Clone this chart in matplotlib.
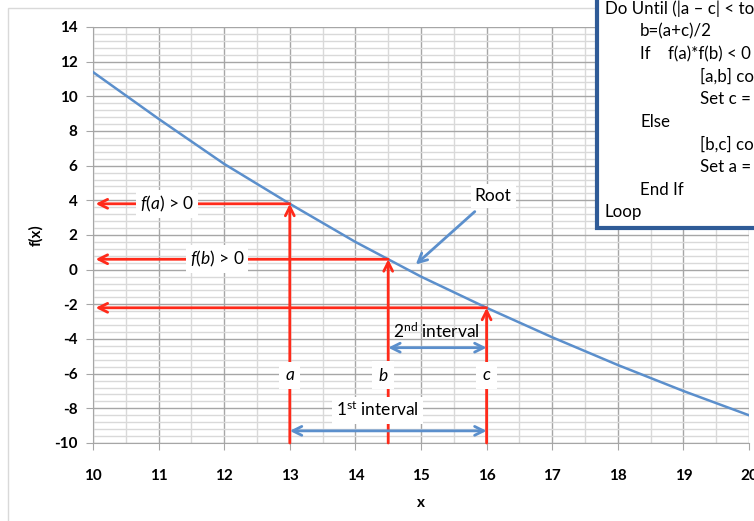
import numpy as np
import matplotlib.pyplot as plt
from matplotlib.patches import Rectangle
from matplotlib.ticker import MultipleLocator

plt.rcParams['font.family'] = ['Lato', 'DejaVu Sans']
plt.rcParams['mathtext.fontset'] = 'custom'
plt.rcParams['mathtext.rm'] = 'Lato'
plt.rcParams['mathtext.it'] = 'Lato:italic'
plt.rcParams['axes.unicode_minus'] = False

# curve values
x_vals = [10, 11, 12, 13, 14, 15, 16, 17, 18, 19, 20]
f_vals = [11.4, 8.7, 6.1, 3.8, 1.6, -0.4, -2.2, -3.9, -5.5, -7.0, -8.4]

a, b, c = 13, 14.5, 16
code_lines = [
    (0, "Do Until (|a \u2013 c| < tol)"),
    (1, "b=(a+c)/2"),
    (1, "If    f(a)*f(b) < 0 Then"),
    (2, "[a,b] contains root"),
    (2, "Set c = b"),
    (1, "Else"),
    (2, "[b,c] contains root"),
    (2, "Set a = b"),
    (1, "End If"),
    (0, "Loop"),
]

red = '#FF2A1A'
blue = '#5B8FCC'

fig = plt.figure(figsize=(7.54, 5.21), dpi=100)
W, H = 754, 521
ax = fig.add_axes([93 / W, 1 - 443 / H, (749 - 93) / W, (443 - 27) / H])

ax.plot(x_vals, f_vals, color='#5B8FCC', lw=1.8, zorder=3)
ax.set_xlim(10, 20)
ax.set_ylim(-10, 14)
ax.xaxis.set_major_locator(MultipleLocator(1))
ax.xaxis.set_minor_locator(MultipleLocator(0.5))
ax.yaxis.set_major_locator(MultipleLocator(2))
ax.yaxis.set_minor_locator(MultipleLocator(0.4))
ax.grid(which='major', color='#A6A6A6', lw=1.0)
ax.grid(which='minor', color='#D9D9D9', lw=1.0)
ax.set_axisbelow(True)
for s in ['top', 'right']:
    ax.spines[s].set_visible(False)
for s in ['left', 'bottom']:
    ax.spines[s].set_color('#A6A6A6')
ax.tick_params(which='major', length=5, color='#A6A6A6', labelsize=11, pad=6)
ax.tick_params(which='minor', length=0)
for lab in ax.get_xticklabels() + ax.get_yticklabels():
    lab.set_fontweight('bold')
ax.tick_params(axis='x', pad=14)
ax.set_xlabel('x', fontsize=11, fontweight='bold', labelpad=9)
ax.set_ylabel('f(x)', fontsize=11, fontweight='bold', labelpad=8)

fa, fb, fc = np.interp([a, b, c], x_vals, f_vals)
arr = dict(arrowstyle='->', color=red, lw=2, shrinkA=0, shrinkB=0,
           mutation_scale=16)
for xv, fv in [(a, fa), (b, fb), (c, fc)]:
    ax.annotate('', xy=(10.04, fv), xytext=(xv, fv), arrowprops=arr, zorder=4)
    ax.annotate('', xy=(xv, fv), xytext=(xv, -10), arrowprops=arr, zorder=4)

box = dict(facecolor='white', edgecolor='none', pad=3)
ax.text(11.13, fa, r'$f$($a$) > 0', fontsize=12.5, ha='center', va='center',
        bbox=box, zorder=5)
ax.text(11.89, fb, r'$f$($b$) > 0', fontsize=12.5, ha='center', va='center',
        bbox=box, zorder=5)
for xv, lab in [(a, r'$a$'), (b - 0.08, r'$b$'), (c, r'$c$')]:
    ax.text(xv, -6.1, lab, fontsize=12.5, ha='center', va='center',
            bbox=dict(facecolor='white', edgecolor='none', pad=4), zorder=5)

barr = dict(arrowstyle='<->', color=blue, lw=2, shrinkA=0, shrinkB=0,
            mutation_scale=16)
ax.annotate('', xy=(b, -4.5), xytext=(c, -4.5), arrowprops=barr, zorder=5)
ax.annotate('', xy=(a, -9.3), xytext=(c, -9.3), arrowprops=barr, zorder=5)
ax.text(15.24, -3.55, r'2$^{\rm nd}$ interval', fontsize=12.5, ha='center',
        va='center', zorder=5)
ax.text(14.34, -8.1, r'1$^{\rm st}$ interval', fontsize=12.5, ha='center',
        va='center', bbox=box, zorder=5)

ax.text(16.1, 4.25, 'Root', fontsize=12.5, ha='center', va='center',
        bbox=box, zorder=5)
ax.annotate('', xy=(14.92, 0.3), xytext=(15.82, 3.35),
            arrowprops=dict(arrowstyle='->', color=blue, lw=2, shrinkA=0,
                            shrinkB=0, mutation_scale=16), zorder=5)

# chart area frame
fig.patches.append(Rectangle((8 / W, -0.1), 1.2, 1 - 8 / H + 0.1,
                             transform=fig.transFigure, fill=False,
                             edgecolor='#D9D9D9', lw=1))

# pseudo-code box
fig.patches.append(Rectangle((597 / W, 1 - 228 / H), 0.3, 0.5,
                             transform=fig.transFigure, facecolor='white',
                             edgecolor='#2F5B97', lw=3, zorder=10))
indent = [605, 640, 700]
for i, (lvl, line) in enumerate(code_lines):
    fig.text(indent[lvl] / W, 1 - (9 + i * 22.6) / H, line, fontsize=12.2,
             ha='left', va='center', zorder=11)

fig.savefig('out.png', dpi=100)
